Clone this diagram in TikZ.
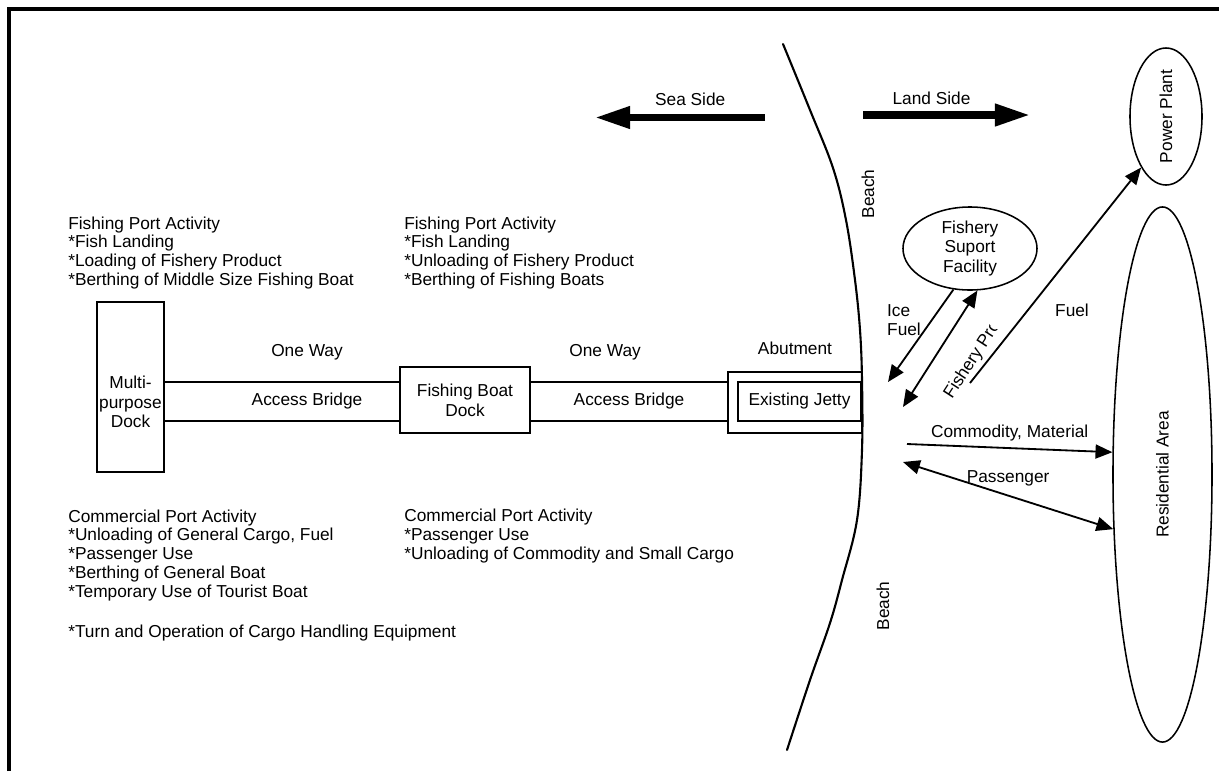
\documentclass[tikz,border=0pt]{standalone}
\usepackage{fontspec}
\setmainfont{Liberation Sans}
\usetikzlibrary{shapes.geometric, arrows.meta, positioning}
\tikzset{
	dock/.style={rectangle, draw=black, fill=white, line width=1.1pt, inner sep=0pt, align=center},
	area/.style={ellipse, draw=black, line width=1.1pt, inner sep=0pt, align=center},
	txt/.style={inner sep=0pt, align=left, anchor=west, font=\fontsize{12.3}{13.5}\selectfont},
	lbl/.style={inner sep=0pt, align=center},
	bigarrow/.style={line width=5pt, -{Triangle[length=25pt, width=15pt]}},
	thinarrow/.style={line width=1.3pt, -{Triangle[length=12pt, width=10pt]}},
	twoarrow/.style={line width=1.3pt, {Triangle[length=12pt, width=10pt]}-{Triangle[length=12pt, width=10pt]}},
	% shore line
	beach/.style={line width=1.5pt, line join=round, line cap=round},
}
\begin{document}
\begin{tikzpicture}[x=0.025cm, y=-0.025cm,
					font=\fontsize{12.3}{14}\selectfont]
					\useasboundingbox (0,0) rectangle (1219,771);
					\draw[line width=2.2pt] (9,771) -- (9,9) -- (1219,9);
					% docks and bridges
					\node[dock, minimum width=1.675cm, minimum height=4.25cm] (multi) at (130.5,387) {};
					\node[lbl] (multit) at (130.5,402) {Multi-\\purpose\\Dock};
					\node[dock, minimum width=7.15cm, minimum height=0.975cm] (br1) at (307,401.5) {Access Bridge};
					\node[dock, minimum width=3.25cm, minimum height=1.65cm] (fbd) at (465,400) {Fishing Boat\\Dock};
					\node[dock, minimum width=4.95cm, minimum height=0.975cm] (br2) at (629,401.5) {Access Bridge};
					\node[dock, minimum width=3.35cm, minimum height=1.525cm] (abut) at (795,402.5) {};
					\node[dock, minimum width=3.075cm, minimum height=0.975cm] (jetty) at (799.5,401.5) {Existing Jetty};
					\node[lbl, above=0.52cm of br1] (way1) {One Way};
					\node[lbl, above=0.52cm of br2, xshift=-17pt] (way2) {One Way};
					\node[lbl, above=0.4cm of abut] (abutl) {Abutment};
					% beach
					\draw[beach] plot[smooth, tension=0.6] coordinates {(783,44) (810,110) (833,168) (846,220) (855,280) (860,330) (862,380) (862,450) (857,520) (842,580) (830,623) (810,680) (787,750)};
					\node[lbl, rotate=90] (beach1) at (868,194) {Beach};
					\node[lbl, rotate=90] (beach2) at (883,606) {Beach};
					% land side
					\node[area, minimum width=3.35cm, minimum height=2.075cm] (fsf) at (970,248.5) {Fishery\\Suport\\Facility};
					\node[area, rotate=90, minimum width=3.425cm, minimum height=1.8cm] (pp) at (1166,116.5) {Power Plant};
					\node[area, rotate=90, minimum width=13.375cm, minimum height=2.475cm] (res) at (1162.5,474.5) {Residential Area};
					\coordinate (seaA) at (765,117.5);
					\coordinate (seaB) at (595,117.5);
					\coordinate (landA) at (863,115);
					\coordinate (landB) at (1030,115);
					\draw[bigarrow] (seaA) -- node[lbl, pos=0.44, above=6pt] (seal) {Sea Side} (seaB);
					\draw[bigarrow] (landA) -- node[lbl, pos=0.41, above=5pt] (landl) {Land Side} (landB);
					\coordinate (icetip) at (888,382);
					\coordinate (prodtip) at (903,407);
					\coordinate (fuelst) at (970,383);
					\coordinate (comst) at (907,444);
					\coordinate (passtip) at (903,462);
					\draw[thinarrow] (fsf.248) -- (icetip);
					\draw[twoarrow] (prodtip) -- (fsf.280);
					\draw[thinarrow] (fuelst) -- (pp.154);
					\draw[thinarrow] (comst) -- node[lbl, above=4pt] (coml) {Commodity, Material} (res.66);
					\draw[twoarrow] (passtip) -- node[lbl, above=6pt] (passl) {Passenger} (res.138);
					\node[lbl, align=left] (icel) at (904,320) {Ice\\Fuel};
					\node[lbl] (fuell) at (1072,310) {Fuel};
					\begin{scope}[shift={(952,400)}, rotate=57]
						\clip (-2,6) rectangle (84,-16);
						\node[lbl, anchor=base west, rotate=57] (prodl) at (0,0) {Fishery Pro};
					\end{scope}
					% activities
					\node[txt] (fish1) at (68,253) {Fishing Port Activity\\*Fish Landing\\*Loading of Fishery Product\\*Berthing of Middle Size Fishing Boat};
					\node[txt] (fish2) at (404,253) {Fishing Port Activity\\*Fish Landing\\*Unloading of Fishery Product\\*Berthing of Fishing Boats};
					\node[txt] (com1) at (68,555.5) {Commercial Port Activity\\*Unloading of General Cargo, Fuel\\*Passenger Use\\*Berthing of General Boat\\*Temporary Use of Tourist Boat};
					\node[txt] (com2) at (404,536.5) {Commercial Port Activity\\*Passenger Use\\*Unloading of Commodity and Small Cargo};
					\node[txt] (turn) at (68,633) {*Turn and Operation of Cargo Handling Equipment};
				\end{tikzpicture}
\end{document}
